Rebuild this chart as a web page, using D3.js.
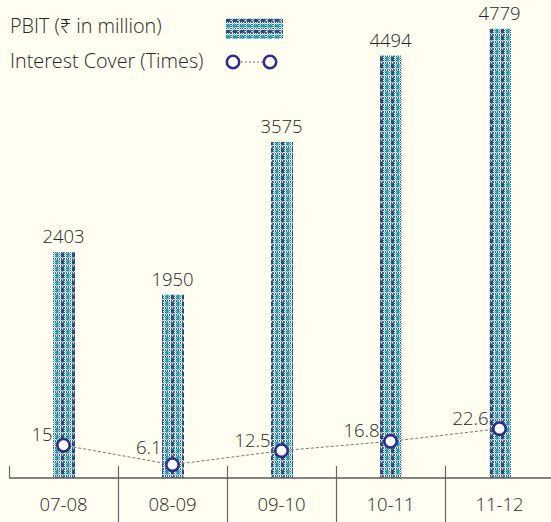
<!DOCTYPE html>
<html><head><meta charset="utf-8">
<script src="https://cdn.jsdelivr.net/npm/d3@7"></script>
<style>
html,body{margin:0;padding:0;background:#fffef0;}
svg{display:block;}
text{font-family:"Open Sans","Noto Sans",sans-serif;font-weight:300;fill:#262626;}
</style></head><body>
<svg id="c" width="551" height="522"></svg>
<script>
const categories = ["07-08","08-09","09-10","10-11","11-12"];
const pbit = [2403,1950,3575,4494,4779];
const interestCover = [15,6.1,12.5,16.8,22.6];
const legendLabels = ["PBIT (\u20B9 in million)","Interest Cover (Times)"];

const W=551,H=522;
const svg=d3.select("#c");
svg.append("rect").attr("width",W).attr("height",H).attr("fill","#fffef0");

const base=478;
const x=d3.scaleBand().domain(categories).range([9,554]).paddingInner(0).paddingOuter(0);
const yBar=d3.scaleLinear().domain([0,5085]).range([base,0]);
const yLine=d3.scaleLinear().domain([0,219]).range([base,0]);

const teal="#18a0a8", navy="#264a7d", circ="#2e2b8c";
const defs=svg.append("defs");
const chk=defs.append("pattern").attr("id","chk").attr("patternUnits","userSpaceOnUse").attr("width",2).attr("height",2);
chk.append("rect").attr("width",2).attr("height",2).attr("fill","#ffffff");
chk.append("rect").attr("x",0).attr("y",0).attr("width",1).attr("height",1).attr("fill","#3567a0");
chk.append("rect").attr("x",1).attr("y",1).attr("width",1).attr("height",1).attr("fill","#9cc6dc");

function makeBarPattern(id,rot){
  const p=defs.append("pattern").attr("id",id).attr("patternUnits","userSpaceOnUse")
    .attr("width",11).attr("height",7);
  if(rot) p.attr("patternTransform","rotate(90)");
  p.append("rect").attr("width",11).attr("height",7).attr("fill","url(#chk)");
  p.append("rect").attr("x",2.5).attr("y",0.5).attr("width",3).attr("height",5).attr("rx",1).attr("fill",teal);
  p.append("rect").attr("x",8).attr("y",0.5).attr("width",3).attr("height",5).attr("rx",1).attr("fill",navy);
  return p;
}
makeBarPattern("barPat",false).attr("x",53);
makeBarPattern("legPat",true);

const bw=22;
svg.append("g").selectAll("rect").data(categories).join("rect")
  .attr("x",d=>Math.round(x(d)+x.bandwidth()/2-bw/2))
  .attr("y",(d,i)=>yBar(pbit[i]))
  .attr("width",bw)
  .attr("height",(d,i)=>base-yBar(pbit[i]))
  .attr("fill","url(#barPat)");
svg.append("g").selectAll("text").data(categories).join("text")
  .attr("x",d=>x(d)+x.bandwidth()/2)
  .attr("y",(d,i)=>yBar(pbit[i])-9)
  .attr("text-anchor","middle").attr("font-size",18.5)
  .text((d,i)=>pbit[i]);

const ax=svg.append("g");
ax.append("line").attr("x1",9).attr("x2",551).attr("y1",base).attr("y2",base)
  .attr("stroke","#5a5a5a").attr("stroke-width",1.5);
const bounds=categories.map(d=>x(d));
ax.selectAll("line.div").data(bounds).join("line").attr("class","div")
  .attr("x1",d=>Math.round(d)+0.5).attr("x2",d=>Math.round(d)+0.5)
  .attr("y1",466).attr("y2",(d,i)=>i===0?base:H)
  .attr("stroke","#666").attr("stroke-width",1.2);
ax.selectAll("text").data(categories).join("text")
  .attr("x",d=>x(d)+x.bandwidth()/2).attr("y",511)
  .attr("text-anchor","middle").attr("font-size",18.5).text(d=>d);

const pts=categories.map((d,i)=>[x(d)+x.bandwidth()/2,yLine(interestCover[i])]);
svg.append("path").attr("d",d3.line()(pts)).attr("fill","none")
  .attr("stroke","#777").attr("stroke-width",1).attr("stroke-dasharray","3,2");
svg.append("g").selectAll("circle").data(pts).join("circle")
  .attr("cx",d=>d[0]).attr("cy",d=>d[1]).attr("r",6.2)
  .attr("fill","#fff").attr("stroke",circ).attr("stroke-width",2.6);
svg.append("g").selectAll("text").data(pts).join("text")
  .attr("x",d=>d[0]-11).attr("y",(d,i)=>d[1]-(i===1?11:4))
  .attr("text-anchor","end").attr("font-size",18.5)
  .text((d,i)=>interestCover[i]);

const lg=svg.append("g");
lg.append("text").attr("x",10).attr("y",33).attr("font-size",19.8).text(legendLabels[0]);
lg.append("text").attr("x",10).attr("y",68).attr("font-size",19.8).text(legendLabels[1]);
lg.append("rect").attr("x",226).attr("y",18).attr("width",57).attr("height",21).attr("fill","url(#legPat)");
lg.append("line").attr("x1",233).attr("x2",270).attr("y1",62).attr("y2",62)
  .attr("stroke","#777").attr("stroke-dasharray","2,2");
lg.selectAll("circle").data([233,270]).join("circle")
  .attr("cx",d=>d).attr("cy",62).attr("r",6.2)
  .attr("fill","#fff").attr("stroke",circ).attr("stroke-width",2.6);
</script></body></html>
